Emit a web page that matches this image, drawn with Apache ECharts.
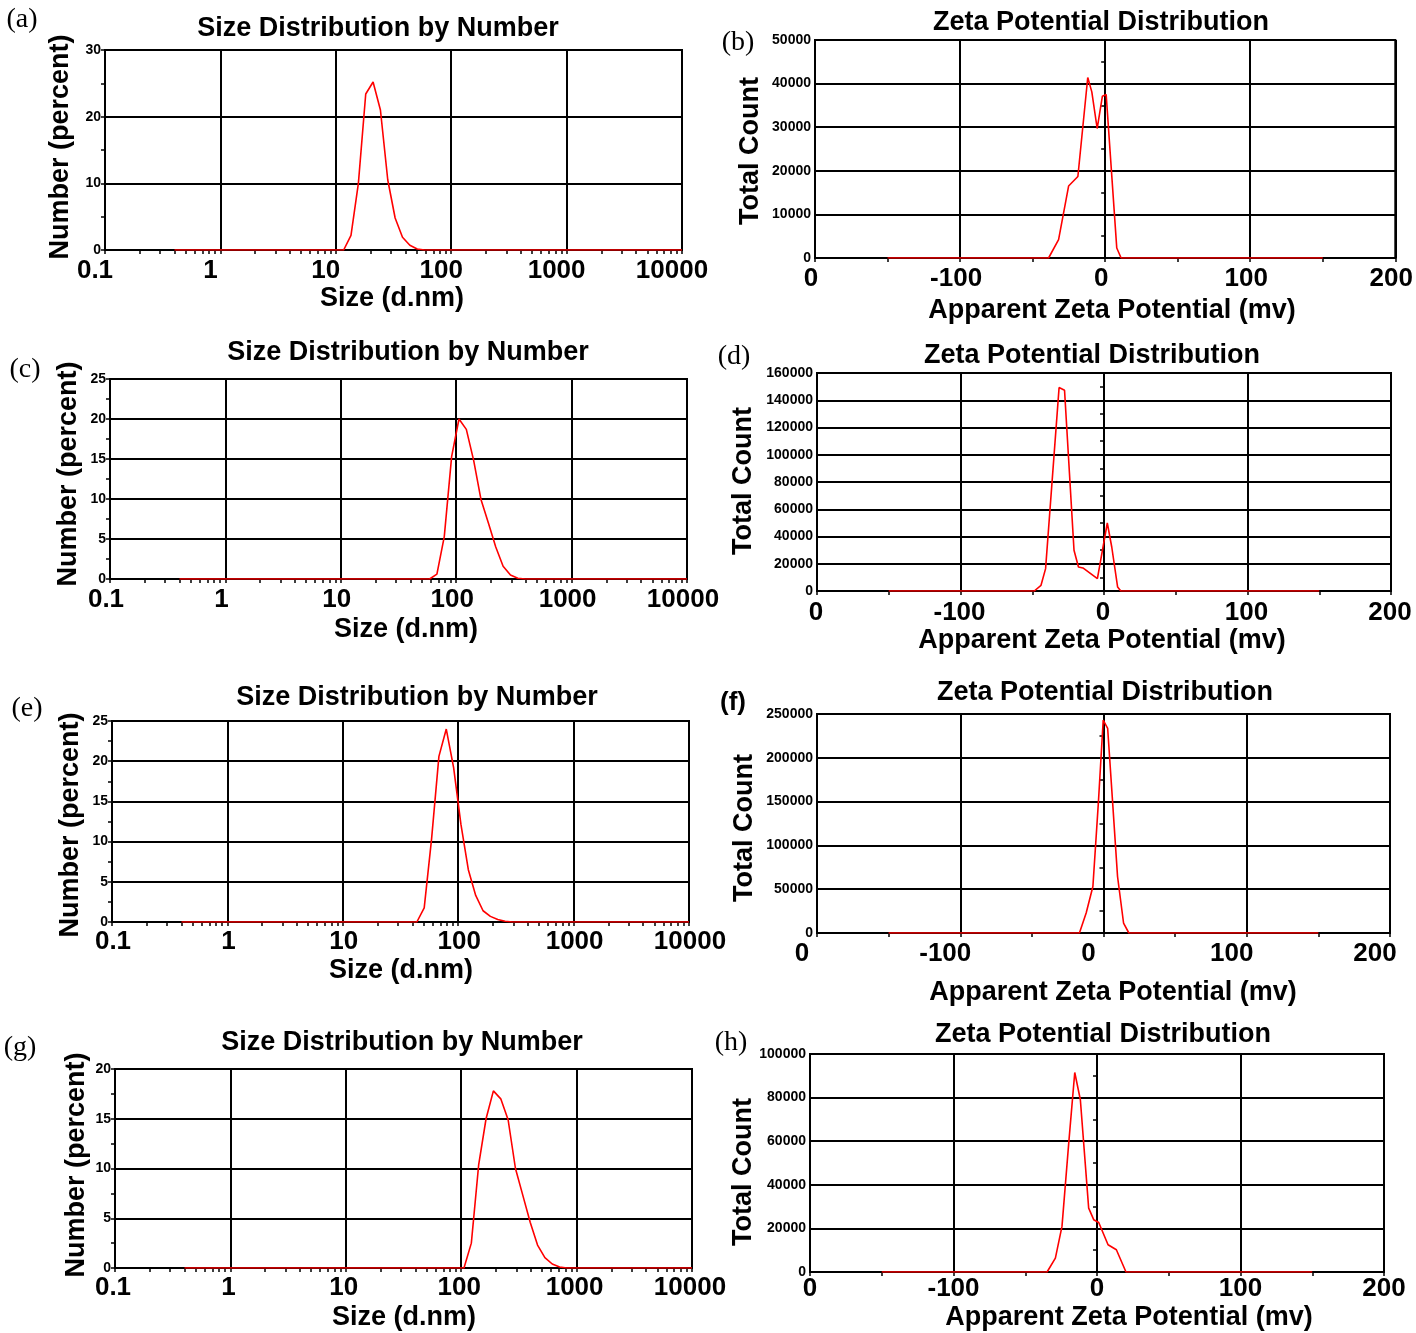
<!DOCTYPE html>
<html><head><meta charset="utf-8">
<script src="https://cdn.jsdelivr.net/npm/echarts@6/dist/echarts.min.js"></script>
<style>html,body{margin:0;padding:0;background:#fff}#c{width:1416px;height:1333px}</style>
</head><body><div id="c"></div>
<script>
// ---------- tick labels ----------
const sizeTickLabels = ["0.1", "1", "10", "100", "1000", "10000"];
const zetaTickValues = [-200, -100, 0, 100, 200];
const zetaTickLabels = ["0", "-100", "0", "100", "200"];
const logMinorFactors = [2, 3, 4, 5, 6, 7, 8, 9];
const logDecades = [0.1, 1, 10, 100, 1000];

// ---------- (a) size distribution ----------
const aSize   = [0.4, 11.7, 13.54, 15.69, 18.17, 21.04, 24.36, 28.21, 32.67, 37.84, 43.82, 50.75, 58.77, 10000];
const aNumber = [0,   0,    2.2,   10,    23.4,  25.2,  21,    10.5,  4.8,   1.9,   0.7,   0.15,  0,     0];
// ---------- (c) ----------
const cSize   = [0.4, 58.77, 68.06, 78.82, 91.28, 105.7, 122.4, 141.8, 164.2, 190.1, 220.2, 255.0, 295.3, 342.0, 396.1, 10000];
const cNumber = [0,   0,     0.6,   5.3,   15.3,  20.0,  18.7,  14.8,  9.9,   7.0,   4.0,   1.6,   0.5,   0.1,   0,     0];
// ---------- (e) ----------
const eSize   = [0.4, 43.82, 50.75, 58.77, 68.06, 78.82, 91.28, 105.7, 122.4, 141.8, 164.2, 190.1, 220.2, 255.0, 295.3, 10000];
const eNumber = [0,   0,     1.75,  10.3,  20.6,  24.0,  19.2,  12.1,  6.5,   3.3,   1.4,   0.7,   0.3,   0.1,   0,     0];
// ---------- (g) ----------
const gSize   = [0.4, 105.7, 122.4, 141.8, 164.2, 190.1, 220.2, 255.0, 295.3, 342.0, 396.1, 458.7, 531.2, 615.1, 712.4, 825.0, 10000];
const gNumber = [0,   0,     2.5,   10.4,  15.0,  17.8,  17.0,  14.9,  10.0,  7.3,   4.6,   2.3,   1.05,  0.4,   0.1,   0,     0];

// ---------- (b) zeta ----------
const bZeta  = [-150, -39, -32.1, -25.2, -18.8, -12,   -9.2,  -5.5,  -1.9,  0.7,   8,    11, 150];
const bCount = [0,    0,   4200,  16500, 18700, 41400, 38100, 29700, 37100, 37500, 2300, 0,  0];
// ---------- (d) ----------
const dZeta  = [-150, -48.6, -43.9, -40.7, -31.3,  -27.5,  -20.9, -17.8, -14.7, -4.6, 2.3,   5.4,   9.5,  11.7, 150];
const dCount = [0,    0,     4200,  16400, 149300, 147300, 29900, 17600, 16900, 9100, 49900, 32300, 2900, 0,    0];
// ---------- (f) ----------
const fZeta  = [-150, -16.8, -12.1, -7.4,  -3.6,   -0.2,   2.9,    6.1,    9.8,   14,    17.7, 150];
const fCount = [0,    0,     22800, 53100, 148200, 243100, 233700, 155700, 64500, 11400, 0,    0];
// ---------- (h) ----------
const hZeta  = [-150, -34.8, -29,  -24.4, -19.7, -15.5, -11.6, -5.8,  -2.3,  1.2,   7.7,   13.5,  20.2, 150];
const hCount = [0,    0,     6400, 20900, 59100, 91500, 79000, 29300, 24000, 22700, 12500, 10200, 0,    0];

const FONT = '"Liberation Sans", Arial, Helvetica, sans-serif';

const panels = [
  {kind:'size', xs:aSize, ys:aNumber, ymax:30, yint:10, g:[105,50,577,200], shift:-10, margin:8,
   title:[378,29], xname:[392,299], yname:[61,147], tag:'(a)', tagPos:[22,20], tagSerif:true},
  {kind:'zeta', xs:bZeta, ys:bCount, ymax:50000, yint:10000, g:[815,40,582,218], shift:-4, margin:8,
   title:[1101,23], xname:[1112,311], yname:[751,151], tag:'(b)', tagPos:[738,43], tagSerif:true},
  {kind:'size', xs:cSize, ys:cNumber, ymax:25, yint:5, g:[110,379,577,200], shift:-4, margin:8,
   title:[408,353], xname:[406,630], yname:[69,474], tag:'(c)', tagPos:[25,370], tagSerif:true},
  {kind:'zeta', xs:dZeta, ys:dCount, ymax:160000, yint:20000, g:[817,373,574,218], shift:-1, margin:9,
   title:[1092,356], xname:[1102,641], yname:[744,481], tag:'(d)', tagPos:[734,357], tagSerif:true},
  {kind:'size', xs:eSize, ys:eNumber, ymax:25, yint:5, g:[112,721,577,201], shift:1, margin:7,
   title:[417,698], xname:[401,971], yname:[71,825], tag:'(e)', tagPos:[27,709], tagSerif:true},
  {kind:'zeta', xs:fZeta, ys:fCount, ymax:250000, yint:50000, g:[817,714,573,219], shift:-15, margin:8,
   title:[1105,693], xname:[1113,993], yname:[745,828], tag:'(f)', tagPos:[733,703], tagSerif:false},
  {kind:'size', xs:gSize, ys:gNumber, ymax:20, yint:5, g:[115,1069,577,199], shift:-2, margin:7,
   title:[402,1043], xname:[404,1318], yname:[77,1165], tag:'(g)', tagPos:[20,1048], tagSerif:true},
  {kind:'zeta', xs:hZeta, ys:hCount, ymax:100000, yint:20000, g:[810,1054,574,218], shift:0, margin:4,
   title:[1103,1035], xname:[1129,1318], yname:[744,1172], tag:'(h)', tagPos:[731,1043], tagSerif:true}
];

const logMinorTicks = [];
logDecades.forEach(d => logMinorFactors.forEach(f => logMinorTicks.push(d * f)));

const grids = [], xAxes = [], yAxes = [], series = [], graphics = [];
const lineBlack = {color:'#000', width:2};
const tickStyle = {color:'#000', width:1.5};

panels.forEach((p, i) => {
  grids.push({left:p.g[0], top:p.g[1], width:p.g[2], height:p.g[3], show:true,
              borderColor:'#000', borderWidth:2, backgroundColor:'transparent', containLabel:false});
  const pad = p.shift < 0 ? [0, -2*p.shift, 0, 0] : [0, 0, 0, 2*p.shift];
  const xLabel = {show:true, color:'#000', fontFamily:FONT, fontWeight:'bold', fontSize:26,
                  margin:p.margin, padding:pad, hideOverlap:false, showMinLabel:true, showMaxLabel:true};
  const mainX = xAxes.length;
  if (p.kind === 'size') {
    xAxes.push({type:'log', logBase:10, gridIndex:i, min:0.1, max:10000, splitNumber:5,
      axisLine:{show:true, lineStyle:lineBlack},
      axisTick:{show:true, length:4, lineStyle:tickStyle},
      minorTick:{show:false},
      splitLine:{show:true, lineStyle:lineBlack},
      axisLabel:Object.assign({}, xLabel, {formatter:v => sizeTickLabels[Math.round(Math.log10(v)) + 1]})
    });
    // companion axis carrying only the 2..9 minor ticks of every decade
    xAxes.push({type:'log', logBase:10, gridIndex:i, min:0.1, max:10000, position:'bottom',
      axisLine:{show:false}, axisLabel:{show:false}, splitLine:{show:false}, minorTick:{show:false},
      axisTick:{show:true, length:4, customValues:logMinorTicks, lineStyle:tickStyle}
    });
  } else {
    xAxes.push({type:'value', gridIndex:i, min:-200, max:200, interval:100,
      axisLine:{show:true, onZero:false, lineStyle:lineBlack},
      axisTick:{show:true, length:4, lineStyle:tickStyle},
      minorTick:{show:true, splitNumber:2, length:4, lineStyle:tickStyle},
      splitLine:{show:true, lineStyle:lineBlack},
      axisLabel:Object.assign({}, xLabel, {formatter:v => zetaTickLabels[zetaTickValues.indexOf(Math.round(v))]})
    });
  }
  yAxes.push({type:'value', gridIndex:i, min:0, max:p.ymax, interval:p.yint,
    axisLine:{show:true, lineStyle:lineBlack},
    axisTick:{show:true, length:4, lineStyle:tickStyle},
    minorTick:{show:true, splitNumber:2, length:4, lineStyle:tickStyle},
    splitLine:{show:true, lineStyle:lineBlack},
    axisLabel:{color:'#000', fontFamily:FONT, fontWeight:'bold', fontSize:14, margin:4,
               formatter:v => String(v)}
  });
  series.push({type:'line', xAxisIndex:mainX, yAxisIndex:i, showSymbol:false, symbol:'none',
    animation:false, clip:true, lineStyle:{color:'#ff0000', width:1.6}, z:5,
    data:p.xs.map((x, k) => [x, p.ys[k]])});

  const tt = p.kind === 'size' ? 'Size Distribution by Number' : 'Zeta Potential Distribution';
  const xn = p.kind === 'size' ? 'Size (d.nm)' : 'Apparent Zeta Potential (mv)';
  const yn = p.kind === 'size' ? 'Number (percent)' : 'Total Count';
  const bold = 'bold 27px ' + FONT;
  graphics.push({type:'text', x:p.title[0], y:p.title[1], z:10,
    style:{text:tt, font:bold, fill:'#000', textAlign:'center', textVerticalAlign:'middle'}});
  graphics.push({type:'text', x:p.xname[0], y:p.xname[1], z:10,
    style:{text:xn, font:bold, fill:'#000', textAlign:'center', textVerticalAlign:'middle'}});
  graphics.push({type:'text', x:p.yname[0], y:p.yname[1], rotation:Math.PI/2, z:10,
    style:{text:yn, font:bold, fill:'#000', textAlign:'center', textVerticalAlign:'middle'}});
  graphics.push({type:'text', x:p.tagPos[0], y:p.tagPos[1], z:10,
    style:{text:p.tag,
           font: p.tagSerif ? '28px "Liberation Serif", "Times New Roman", serif' : 'bold 26px ' + FONT,
           fill:'#000', textAlign:'center', textVerticalAlign:'middle'}});
});

const chart = echarts.init(document.getElementById('c'), null, {renderer:'canvas'});
chart.setOption({
  backgroundColor:'#fff',
  animation:false,
  grid:grids, xAxis:xAxes, yAxis:yAxes, series:series,
  graphic:{elements:graphics}
});
</script>
</body></html>
